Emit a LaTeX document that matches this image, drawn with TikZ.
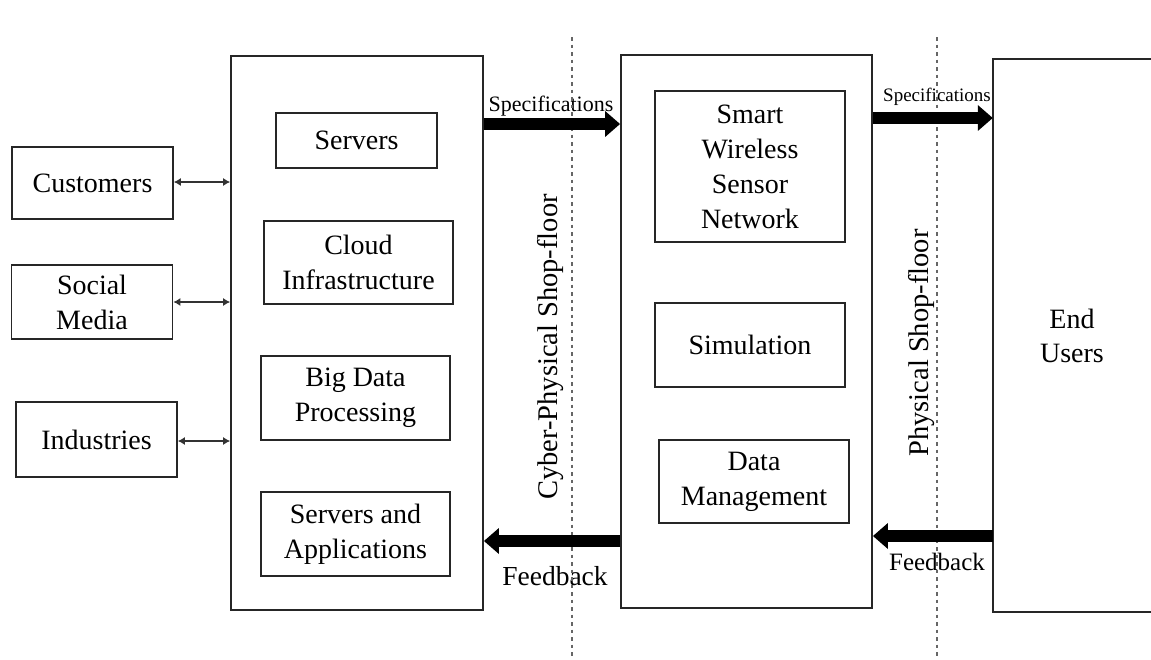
\documentclass[tikz,border=0pt]{standalone}
\usepackage{fontspec}
\setmainfont{Liberation Serif}
\usetikzlibrary{arrows.meta,calc}
\begin{document}
\begin{tikzpicture}[x=1pt,y=-1pt,
  box/.style={draw=black!85,line width=1.8pt,rectangle,align=center,inner sep=0pt,
    font=\fontsize{28}{35}\selectfont},
  frame/.style={draw=black!85,line width=1.8pt,rectangle,inner sep=0pt},
  bigarrow/.style={line width=12pt,-{Triangle[length=15pt,width=25pt]}},
  dbl/.style={draw=black!80,line width=1.1pt,{Latex[length=7pt,width=8pt]}-{Latex[length=7pt,width=8pt]}},
  divider/.style={draw=black!60,line width=1.3pt,dash pattern=on 3.5pt off 4pt},
  vlabel/.style={rotate=90,font=\fontsize{28.5}{32}\selectfont,inner sep=0pt},
  speclabel/.style={inner sep=0pt},
]
\useasboundingbox (0,0) rectangle (1151,659);
\clip (0,0) rectangle (1151,659);

% left column
\node[box,minimum width=161,minimum height=72] (cust) at (92.5,183) {Customers};
\node[box,minimum width=161,minimum height=74] (social) at (92,302) {Social\\Media};
\node[box,minimum width=161,minimum height=75] (ind) at (96.5,439.5) {Industries};

% cyber box
\node[frame,minimum width=252,minimum height=554] (cyber) at (357,333) {};
\node[box,minimum width=161,minimum height=55] (servers) at (356.5,140.5) {Servers};
\node[box,minimum width=189,minimum height=83] (cloud) at (358.5,262.5) {Cloud\\Infrastructure};
\node[box,minimum width=189,minimum height=84] (bigdata) at (355.5,398) {Big Data\\Processing};
\node[box,minimum width=189,minimum height=84] (apps) at (355.5,534) {Servers and\\Applications};

% physical box
\node[frame,minimum width=251,minimum height=553] (phys) at (746.5,331.5) {};
\node[box,minimum width=190,minimum height=151] (wsn) at (750,166.5) {Smart\\Wireless\\Sensor\\Network};
\node[box,minimum width=190,minimum height=84] (sim) at (750,345) {Simulation};
\node[box,minimum width=190,minimum height=83] (dm) at (754,481.5) {Data\\Management};

% end users
\node[inner sep=0pt,minimum width=158,minimum height=553,align=center,
  font=\fontsize{28}{34}\selectfont] (end) at (1072,335.5) {End\\Users};
\draw[black!85,line width=1.8pt] (end.north east) -- (end.north west) -- (end.south west) -- (end.south east);

% labels
\node[speclabel,font=\fontsize{22}{24}\selectfont] (spec1) at (551,106) {Specifications};
\node[speclabel,font=\fontsize{19}{21}\selectfont] (spec2) at (937,97) {Specifications};
\node[speclabel,font=\fontsize{27.5}{30}\selectfont] (fb1) at (555,576) {Feedback};
\node[speclabel,font=\fontsize{25}{28}\selectfont] (fb2) at (937,562) {Feedback};
\node[vlabel] (cplabel) at (551,347) {Cyber-Physical Shop-floor};
\node[vlabel] (pslabel) at (922,343) {Physical Shop-floor};

% dividers
\coordinate (d1top) at (572,37);
\coordinate (d1bot) at (572,659);
\coordinate (d2top) at (937,37);
\coordinate (d2bot) at (937,659);
\draw[divider] (d1top) -- (d1bot);
\draw[divider] (d2top) -- (d2bot);

% small double arrows
\draw[dbl] (cust.east |- 0,182) -- (cyber.west |- 0,182);
\draw[dbl] (social.east |- 0,302) -- (cyber.west |- 0,302);
\draw[dbl] (ind.east |- 0,441) -- (cyber.west |- 0,441);

% big arrows
\draw[bigarrow] (cyber.east |- 0,124) -- (phys.west |- 0,124);
\draw[bigarrow] (phys.east |- 0,118) -- (end.west |- 0,118);
\draw[bigarrow] (phys.west |- 0,541) -- (cyber.east |- 0,541);
\draw[bigarrow] (end.west |- 0,536) -- (phys.east |- 0,536);
\end{tikzpicture}
\end{document}
